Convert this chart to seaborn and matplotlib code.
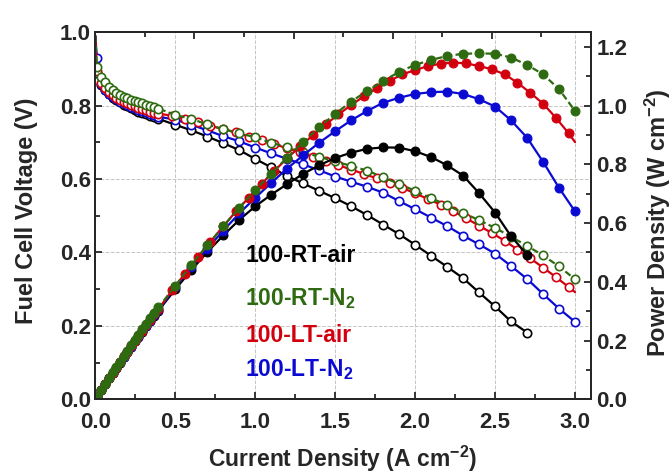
import numpy as np
import pandas as pd
import matplotlib
matplotlib.use("Agg")
import matplotlib.pyplot as plt
import seaborn as sns

# current density (A cm-2)
i_low = [0.0, 0.01, 0.035, 0.06, 0.085, 0.11, 0.13, 0.155, 0.18, 0.2, 0.225,
         0.25, 0.27, 0.295, 0.32, 0.345, 0.37, 0.395]
i_hi = [0.5, 0.6, 0.7, 0.8, 0.9, 1.0, 1.1, 1.2, 1.3, 1.4, 1.5, 1.6, 1.7, 1.8,
        1.9, 2.0, 2.1, 2.2, 2.3, 2.4, 2.5, 2.6, 2.7, 2.8, 2.9, 3.0]
i_red_hi = [0.48, 0.56, 0.64, 0.72, 0.80, 0.88, 0.96, 1.04, 1.12, 1.20, 1.28,
            1.36, 1.44, 1.52, 1.60, 1.68, 1.76, 1.84, 1.92, 2.00, 2.08, 2.16,
            2.24, 2.32, 2.40, 2.48, 2.56, 2.64, 2.72, 2.80, 2.88, 2.96, 3.00]

# voltage (V)
v_rt_air = [0.99, 0.89, 0.857, 0.842, 0.831, 0.822, 0.815, 0.809, 0.803, 0.798,
            0.793, 0.789, 0.784, 0.780, 0.776, 0.772, 0.768, 0.764,
            0.748, 0.733, 0.716, 0.698, 0.679, 0.655, 0.632, 0.608, 0.588,
            0.568, 0.548, 0.526, 0.502, 0.476, 0.450, 0.421, 0.391, 0.361,
            0.330, 0.291, 0.253, 0.212, 0.182]
v_rt_n2 = [0.99, 0.906, 0.879, 0.864, 0.852, 0.843, 0.835, 0.829, 0.824, 0.820,
           0.816, 0.812, 0.809, 0.806, 0.802, 0.799, 0.796, 0.792,
           0.775, 0.764, 0.749, 0.736, 0.725, 0.714, 0.699, 0.687, 0.673,
           0.661, 0.648, 0.636, 0.623, 0.605, 0.587, 0.568, 0.548, 0.529,
           0.508, 0.488, 0.467, 0.443, 0.418, 0.392, 0.362, 0.327]
v_lt_air = [0.99, 0.895, 0.862, 0.847, 0.836, 0.828, 0.822, 0.816, 0.811, 0.806,
            0.802, 0.798, 0.794, 0.791, 0.787, 0.784, 0.781, 0.778,
            0.773, 0.764, 0.755, 0.745, 0.736, 0.727, 0.716, 0.706, 0.695,
            0.684, 0.673, 0.661, 0.650, 0.638, 0.626, 0.614, 0.602, 0.589,
            0.576, 0.561, 0.546, 0.530, 0.512, 0.493, 0.473, 0.453, 0.432,
            0.408, 0.384, 0.359, 0.333, 0.306, 0.292]
v_lt_n2 = [0.99, 0.93, 0.86, 0.843, 0.832, 0.824, 0.817, 0.811, 0.806, 0.801,
           0.797, 0.793, 0.789, 0.785, 0.782, 0.778, 0.774, 0.770,
           0.762, 0.748, 0.733, 0.717, 0.703, 0.686, 0.670, 0.655, 0.640,
           0.624, 0.607, 0.593, 0.579, 0.563, 0.540, 0.518, 0.495, 0.472,
           0.446, 0.422, 0.397, 0.363, 0.328, 0.287, 0.247, 0.211]

# power density (W cm-2)
p_rt_air = [0.0, 0.009, 0.030, 0.051, 0.071, 0.090, 0.106, 0.125, 0.144, 0.160,
            0.178, 0.197, 0.212, 0.230, 0.248, 0.266, 0.284, 0.302,
            0.374, 0.440, 0.501, 0.558, 0.611, 0.657, 0.697, 0.733, 0.768,
            0.797, 0.822, 0.840, 0.853, 0.858, 0.857, 0.845, 0.825, 0.797,
            0.762, 0.702, 0.636, 0.555, 0.493]
p_rt_n2 = [0.0, 0.009, 0.031, 0.052, 0.072, 0.093, 0.109, 0.128, 0.148, 0.164,
           0.184, 0.203, 0.218, 0.238, 0.257, 0.276, 0.295, 0.313,
           0.386, 0.458, 0.524, 0.589, 0.652, 0.712, 0.769, 0.823, 0.876,
           0.927, 0.972, 1.014, 1.050, 1.084, 1.115, 1.139, 1.156, 1.169,
           1.177, 1.178, 1.177, 1.164, 1.139, 1.107, 1.056, 0.982]
p_lt_air = [0.0, 0.009, 0.030, 0.051, 0.071, 0.091, 0.107, 0.126, 0.146, 0.161,
            0.180, 0.200, 0.214, 0.233, 0.252, 0.270, 0.289, 0.307,
            0.371, 0.428, 0.483, 0.536, 0.589, 0.640, 0.687, 0.734, 0.778,
            0.821, 0.861, 0.899, 0.936, 0.970, 1.002, 1.032, 1.059, 1.084,
            1.107, 1.121, 1.135, 1.143, 1.147, 1.144, 1.135, 1.124, 1.107,
            1.078, 1.044, 1.007, 0.959, 0.906, 0.876]
p_lt_n2 = [0.0, 0.009, 0.030, 0.051, 0.071, 0.091, 0.106, 0.126, 0.145, 0.160,
           0.179, 0.198, 0.213, 0.232, 0.250, 0.268, 0.286, 0.304,
           0.381, 0.449, 0.513, 0.574, 0.633, 0.686, 0.737, 0.786, 0.831,
           0.874, 0.913, 0.950, 0.982, 1.010, 1.027, 1.040, 1.046, 1.048,
           1.040, 1.022, 0.997, 0.950, 0.891, 0.809, 0.720, 0.640]

labels = ["100-RT-air", "100-RT-N$_2$", "100-LT-air", "100-LT-N$_2$"]
colors = ["#000000", "#2d6a10", "#d2000f", "#0a0ad2"]

series = [
    (labels[0], i_low + i_hi[:23], v_rt_air, p_rt_air, "-", slice(1, None)),
    (labels[3], i_low + i_hi, v_lt_n2, p_lt_n2, "-", slice(1, None)),
    (labels[2], i_low + i_red_hi, v_lt_air, p_lt_air, "-", slice(1, -1)),
    (labels[1], i_low + i_hi, v_rt_n2, p_rt_n2, (0, (3, 1.5)), slice(1, None)),
]
color_of = dict(zip(labels, colors))

sns.set_style("ticks")
plt.rcParams["font.family"] = ["Liberation Sans", "DejaVu Sans"]
plt.rcParams["font.weight"] = "bold"
plt.rcParams["axes.labelweight"] = "bold"
plt.rcParams["mathtext.default"] = "regular"
plt.rcParams["axes.linewidth"] = 1.4

fig = plt.figure(figsize=(6.72, 4.74), dpi=100)
ax = fig.add_axes([0.1418, 0.1576, 0.7377, 0.7743])
ax2 = ax.twinx()

for name, cur, volt, power, ls, mk in series:
    c = color_of[name]
    df = pd.DataFrame({"i": cur, "v": volt, "p": power})
    sns.lineplot(data=df, x="i", y="v", ax=ax, color=c, lw=1.6, ls=ls,
                 marker="o", markersize=6.0, markerfacecolor="white",
                 markeredgecolor=c, markeredgewidth=1.2, markevery=mk,
                 estimator=None, sort=False)
    sns.lineplot(data=df, x="i", y="p", ax=ax2, color=c, lw=1.6, ls=ls,
                 marker="o", markersize=6.4, markerfacecolor=c,
                 markeredgecolor=c, markeredgewidth=0.8, markevery=mk,
                 estimator=None, sort=False)

ax.set_xlim(0, 3.1)
ax.set_ylim(0, 1.0)
ax2.set_ylim(0, 1.25)

ax.set_xticks(np.arange(0, 3.01, 0.5))
ax.set_xticks(np.arange(0.25, 3.1, 0.5), minor=True)
ax.set_yticks(np.arange(0, 1.01, 0.2))
ax.set_yticks(np.arange(0.1, 1.0, 0.2), minor=True)
ax2.set_yticks(np.arange(0, 1.21, 0.2))
ax2.set_yticks(np.arange(0.1, 1.2, 0.2), minor=True)
ax.xaxis.set_major_formatter(matplotlib.ticker.FormatStrFormatter("%.1f"))
ax.yaxis.set_major_formatter(matplotlib.ticker.FormatStrFormatter("%.1f"))
ax2.yaxis.set_major_formatter(matplotlib.ticker.FormatStrFormatter("%.1f"))

ax.tick_params(axis="x", which="both", direction="in", top=False,
               labelsize=16, pad=9, width=1.3)
ax.tick_params(axis="x", which="major", length=5)
ax.tick_params(axis="x", which="minor", length=3.5)
ax.tick_params(axis="y", which="both", direction="in", labelsize=16, pad=3,
               width=1.3)
ax.tick_params(axis="y", which="major", length=5)
ax.tick_params(axis="y", which="minor", length=3.5)
ax2.tick_params(axis="y", which="both", direction="in", labelsize=16, pad=4,
                width=1.3)
ax2.tick_params(axis="y", which="major", length=5)
ax2.tick_params(axis="y", which="minor", length=3.5)

top = ax.secondary_xaxis("top")
top.set_xticks(np.arange(0.62, 3.1, 0.62))
top.set_xticks(np.arange(0.31, 3.1, 0.62), minor=True)
top.tick_params(which="both", direction="in", labeltop=False, width=1.3)
top.tick_params(which="major", length=5)
top.tick_params(which="minor", length=3.5)
top.spines["top"].set_linewidth(1.4)

ax.grid(True, which="major", ls="--", color="#c4c4c4", lw=0.7)
ax.set_axisbelow(True)

ax.set_xlabel("Current Density (A cm$^{-2}$)", fontsize=16.5)
ax.set_ylabel("Fuel Cell Voltage (V)", fontsize=17)
ax2.set_ylabel("Power Density (W cm$^{-2}$)", fontsize=17)
ax.xaxis.set_label_coords(0.498, -0.122)
ax.yaxis.set_label_coords(-0.116, 0.513)
ax2.yaxis.set_label_coords(1.104, 0.482)

legend_y = [0.375, 0.257, 0.157, 0.062]
for lab, c, yy in zip(labels, colors, legend_y):
    ax.text(0.302, yy, lab, color=c, fontsize=16.5, fontweight="bold",
            transform=ax.transAxes, va="baseline", ha="left")

fig.savefig("out.png", dpi=100)
